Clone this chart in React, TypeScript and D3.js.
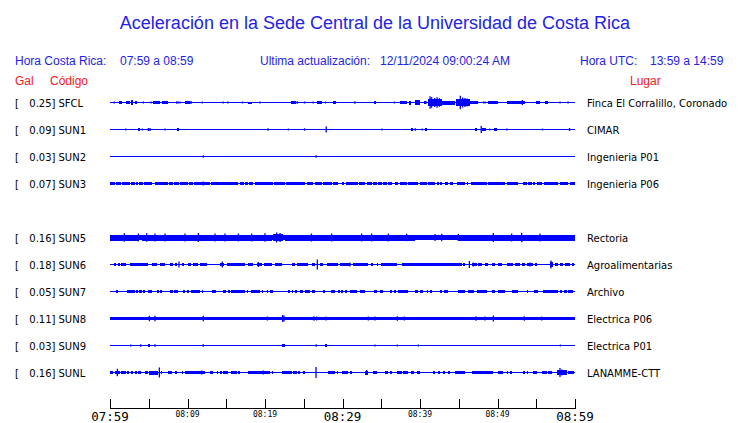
import React from "react";
import * as d3 from "d3";

// ---------- data ----------
const TITLE = "Aceleración en la Sede Central de la Universidad de Costa Rica";
const CODES = ["SFCL", "SUN1", "SUN2", "SUN3", "SUN5", "SUN6", "SUN7", "SUN8", "SUN9", "SUNL"];
const GAL = ["0.25", "0.09", "0.03", "0.07", "0.16", "0.18", "0.05", "0.11", "0.03", "0.16"];
const PLACES = [
  "Finca El Corralillo, Coronado", "CIMAR", "Ingenieria P01", "Ingenieria P06", "Rectoria",
  "Agroalimentarias", "Archivo", "Electrica P06", "Electrica P01", "LANAMME-CTT",
];
const ROWS = [0, 1, 2, 3, 5, 6, 7, 8, 9, 10];
const TICK_MINUTES = [0, 5, 10, 15, 20, 25, 30, 35, 40, 45, 50, 55, 60];
const TICK_LABELS = ["07:59", "08:09", "08:19", "08:29", "08:39", "08:49", "08:59"];
const BIG_LABELS = ["07:59", "08:29", "08:59"];

// continuous noise level per station (amplitude units)
const BASE = [0, 0, 0, 1.3, 2.6, 0, 0, 1.7, 0, 0];

// quiet gaps inside continuous noise [startMin, endMin]
const GAPS_SUN3 = [
  [0.65, 0.77], [1.38, 1.51], [2.58, 2.71], [3.23, 3.35], [3.66, 3.78], [4.22, 4.43], [5.38, 5.81],
  [7.53, 7.66], [8.17, 8.3], [8.9, 9.08], [10.11, 10.24], [10.67, 10.88], [12.9, 13.03], [16.56, 16.77],
  [17.25, 17.42], [17.85, 17.98], [18.49, 18.71], [21.08, 21.2], [22.58, 22.71], [25.16, 25.38],
  [26.24, 26.45], [27.31, 27.53], [28.6, 28.82], [29.46, 29.98], [30.15, 30.41], [31.96, 32.13],
  [32.9, 33.12], [33.76, 33.98], [34.41, 34.62], [35.05, 35.27], [35.7, 35.91], [36.34, 36.77],
  [37.2, 37.42], [38.28, 38.49], [39.78, 40.0], [40.86, 41.08], [41.94, 42.15], [42.45, 42.58],
  [42.8, 43.23], [43.66, 43.87], [44.3, 44.73], [45.81, 46.02], [46.24, 46.58], [48.6, 48.82],
  [50.97, 51.18], [52.69, 53.33], [53.76, 53.98], [54.41, 54.54], [54.84, 55.05], [55.7, 56.04],
  [57.85, 58.06], [59.14, 59.35],
];
const GAPS = [[], [], [], GAPS_SUN3, [], [], [], [], [], []];

// bursts [startMin, endMin, amplitude]
const BLOCKS_SFCL = [
  [1.16, 1.55, 1.3], [2.03, 2.58, 1.3], [2.71, 2.97, 2.3], [3.23, 3.45, 1.3], [5.55, 6.45, 1.5],
  [6.67, 7.45, 1.5], [9.68, 10.32, 1.5], [17.85, 18.28, 1], [23.35, 24.0, 1.3], [26.7, 27.35, 1.3],
  [28.77, 29.16, 1.3], [34.06, 34.3, 1.3], [37.4, 38.3, 1.5], [38.6, 38.8, 2], [39.35, 40.0, 2.3],
  [40.5, 40.77, 1.3], [41.0, 42.8, 3.6], [42.84, 44.5, 2], [44.7, 46.45, 3.8], [46.45, 47.5, 1.5],
  [48.8, 50.06, 1.3], [51.2, 53.5, 1.5], [55.0, 55.5, 1.3], [56.1, 56.5, 1.3],
];
const BLOCKS_SUN1 = [
  [3.66, 3.83, 1.5], [8.69, 8.86, 1.5], [38.9, 39.1, 1.3], [40.6, 40.9, 1.5], [47.1, 47.4, 1.5],
  [48.0, 48.5, 1.5], [49.6, 50.0, 1.5],
];
const BLOCKS_SUN5 = [[0, 3.66, 3], [4.09, 20.86, 3], [21.08, 22.37, 3.4], [22.6, 39.35, 3], [39.8, 44.5, 2.8], [45.0, 60, 3]];
const BLOCKS_SUN6 = [
  [0.52, 0.77, 1.3], [0.99, 1.29, 1.3], [1.42, 2.06, 1.3], [2.58, 4.95, 1.3], [5.38, 6.02, 1.3],
  [6.45, 7.1, 1.3], [7.74, 8.17, 1.3], [8.39, 8.6, 1.3], [9.33, 9.59, 1.3], [10.02, 10.45, 1.3],
  [10.75, 11.4, 1.3], [11.61, 12.47, 1.3], [14.19, 14.75, 1.3], [15.05, 17.42, 1.3], [17.85, 18.49, 1.3],
  [18.92, 19.57, 1.3], [19.91, 20.86, 1.3], [21.29, 22.15, 1.3], [23.44, 23.87, 1.3], [24.09, 25.59, 1.3],
  [26.02, 26.45, 1.3], [27.1, 27.53, 1.3], [27.96, 29.46, 1.3], [29.68, 30.97, 1.3], [31.4, 33.33, 1.3],
  [33.68, 33.98, 1.3], [34.41, 34.62, 1.3], [34.97, 36.34, 1.3], [36.43, 36.99, 1.3], [37.63, 45.38, 1.3],
  [45.59, 45.81, 1.3], [46.67, 47.31, 1.3], [47.53, 47.96, 1.3], [48.39, 48.82, 1.3], [49.25, 49.68, 1.3],
  [50.11, 50.54, 1.3], [51.18, 52.04, 1.3], [52.26, 52.9, 1.3], [53.12, 53.55, 1.3], [53.76, 54.62, 1.3],
  [54.84, 55.05, 1.3], [56.77, 57.2, 2.5], [57.42, 57.85, 1.3], [58.06, 58.49, 1.3], [58.71, 59.35, 1.3],
  [59.57, 59.91, 1.3],
];
const BLOCKS_SUN7 = [
  [0.77, 0.99, 1.3], [2.24, 3.23, 1.3], [3.35, 3.66, 1.3], [3.78, 4.09, 1.3], [4.3, 4.52, 1.3],
  [4.95, 5.38, 1.3], [6.11, 6.32, 1.3], [6.45, 6.67, 1.3], [7.74, 8.17, 1.3], [8.3, 8.73, 1.3],
  [9.46, 9.68, 1.3], [9.89, 10.19, 1.3], [10.45, 11.61, 1.3], [11.83, 12.04, 1.3], [13.2, 13.63, 1.3],
  [14.62, 14.92, 1.3], [15.27, 15.48, 1.3], [15.61, 17.42, 1.3], [17.63, 17.85, 1.3], [18.15, 19.35, 1.3],
  [19.57, 19.78, 1.3], [20.22, 20.43, 1.3], [20.65, 21.08, 1.3], [23.01, 23.23, 1.3], [23.44, 23.66, 1.3],
  [23.87, 24.09, 1.3], [24.52, 24.95, 1.3], [25.16, 25.81, 1.3], [26.02, 26.45, 1.3], [27.53, 27.74, 1.3],
  [28.47, 29.03, 1.3], [29.46, 29.68, 1.3], [29.81, 30.11, 1.3], [30.32, 30.54, 1.3], [30.97, 31.83, 1.3],
  [32.26, 32.9, 1.3], [34.11, 34.41, 1.3], [34.84, 35.27, 1.3], [36.13, 36.43, 1.3], [36.69, 36.86, 1.3],
  [37.2, 38.49, 1.3], [39.35, 39.78, 1.3], [40.0, 40.43, 1.3], [40.86, 41.08, 1.3], [41.29, 41.51, 1.3],
  [42.58, 42.88, 1.3], [43.14, 43.57, 1.3], [44.86, 45.81, 1.3], [46.24, 47.01, 1.3], [47.31, 48.6, 1.3],
  [49.25, 49.68, 1.3], [50.11, 50.97, 1.3], [51.83, 52.69, 1.3], [53.76, 53.98, 1.3], [54.75, 55.27, 1.3],
  [55.91, 57.85, 1.3], [58.06, 58.37, 1.3], [58.62, 58.92, 1.3], [59.14, 59.78, 1.3],
];
const BLOCKS_SUN9 = [[4.95, 5.16, 1.5], [22.15, 22.58, 1.3], [27.74, 28.0, 1.3]];
const BLOCKS_SUNL = [
  [0, 0.43, 1.3], [0.65, 1.29, 1.3], [1.42, 2.02, 1.3], [2.15, 2.45, 1.3], [2.71, 3.01, 1.3],
  [3.23, 3.44, 1.3], [3.66, 3.96, 1.3], [4.52, 4.95, 1.3], [5.08, 6.24, 2], [6.58, 6.75, 1.3],
  [7.44, 7.96, 1.3], [8.39, 8.6, 1.3], [9.25, 9.46, 1.3], [9.68, 10.54, 1.3], [10.62, 11.83, 1.3],
  [11.83, 12.26, 1.8], [12.9, 13.33, 1.3], [13.76, 13.98, 1.3], [14.19, 14.41, 1.3], [14.62, 15.27, 1.3],
  [15.61, 16.34, 1.3], [16.56, 16.77, 1.3], [17.76, 20.65, 1.5], [20.86, 21.08, 1.3], [22.15, 23.44, 1.3],
  [23.66, 24.09, 1.3], [24.3, 24.52, 1.3], [24.95, 25.16, 1.3], [28.17, 29.03, 1.3], [29.25, 29.46, 1.3],
  [29.89, 30.67, 1.3], [30.97, 31.18, 1.3], [32.9, 33.33, 2], [33.98, 34.41, 1.3], [35.48, 35.91, 1.3],
  [36.13, 36.34, 1.3], [36.99, 37.63, 1.3], [37.85, 38.49, 1.3], [38.84, 39.27, 1.3], [39.57, 40.0, 1.3],
  [41.72, 41.94, 1.3], [42.37, 42.58, 1.3], [43.01, 43.23, 1.3], [43.66, 43.87, 1.3], [44.52, 45.81, 1.3],
  [46.67, 49.46, 1.3], [50.02, 50.75, 1.3], [51.18, 51.4, 1.3], [51.61, 51.91, 1.3], [53.33, 53.55, 1.3],
  [53.76, 53.98, 1.3], [54.62, 55.05, 1.3], [55.7, 56.34, 1.3], [56.56, 56.99, 1.3], [57.63, 58.92, 2.3],
  [59.14, 59.91, 1.3],
];
const BLOCKS = [BLOCKS_SFCL, BLOCKS_SUN1, [], [], BLOCKS_SUN5, BLOCKS_SUN6, BLOCKS_SUN7, [], BLOCKS_SUN9, BLOCKS_SUNL];

// single peaks [minute, amplitude]
const SPIKES_SFCL = [
  [0.55, 1], [4.3, 1], [5.3, 1], [8.6, 1.2], [8.8, 1], [9.03, 1], [10.45, 1.5], [11.9, 1], [14.6, 1],
  [15.2, 1], [17.1, 1], [19.35, 1], [24.17, 1.3], [25.1, 1], [26.2, 1], [27.8, 1], [31.6, 1.3], [36.7, 1],
  [40.77, 1.5], [41.3, 6.3], [41.5, 5.3], [41.9, 4.5], [42.2, 5.2], [42.5, 4.3], [45.2, 6.8], [45.5, 5],
  [45.8, 4.5], [46.1, 4], [48.2, 1], [48.4, 1], [53.2, 2.5], [58.06, 1], [59.1, 1],
];
const SPIKES_SUN1 = [
  [2.03, 1], [4.17, 1], [4.95, 1.5], [5.16, 1.5], [7.1, 1], [20.4, 1.3], [23.0, 1], [25.1, 1.2], [27.9, 3],
  [35.1, 1], [39.4, 1.2], [40.3, 1], [47.9, 3.5], [49.0, 1], [51.2, 1], [55.8, 1], [59.3, 1.5],
];
const SPIKES_SUN2 = [[12.04, 1.3], [26.6, 1.3]];
const SPIKES_SUN3 = [[12.04, 2]];
const SPIKES_SUN5 = [
  [1.85, 4.3], [3.66, 4], [4.73, 4.3], [5.81, 4], [7.1, 4], [9.68, 4], [11.4, 4.5], [13.55, 4], [14.84, 4],
  [16.56, 4], [18.28, 4], [20.0, 4.2], [21.5, 5], [21.94, 4.5], [26.0, 4], [28.6, 4], [32.47, 4], [33.76, 4],
  [35.91, 4], [38.28, 3.8], [41.94, 3.5], [42.8, 3.8], [44.95, 3.5], [49.46, 4.5], [51.83, 4], [53.12, 4.8],
  [55.48, 4],
];
const SPIKES_SUN6 = [
  [8.9, 3], [14.49, 3], [19.14, 2.5], [26.75, 5], [30.97, 2], [46.37, 3.5], [46.88, 2], [54.2, 2], [56.9, 4],
];
const SPIKES_SUN8 = [
  [5.08, 2.7], [5.81, 2.7], [12.04, 2.7], [20.3, 2], [22.28, 3.5], [22.45, 3], [26.32, 2.3], [26.67, 2],
  [27.87, 2], [33.33, 2], [34.19, 2], [37.08, 2.3], [37.98, 2], [47.23, 2.3], [48.39, 2], [49.46, 3],
  [53.46, 2.3], [55.7, 2],
];
const SPIKES_SUN9 = [
  [2.67, 1], [3.96, 1.3], [5.81, 1.2], [12.04, 1.2], [26.62, 1.3], [34.19, 1], [37.08, 1], [39.78, 1], [58.1, 1],
];
const SPIKES_SUNL = [
  [0.95, 3.7], [6.37, 5], [11.83, 2], [19.78, 2], [26.58, 5.5], [33.12, 2.5], [58.06, 4.5], [58.3, 3],
];
const SPIKES = [SPIKES_SFCL, SPIKES_SUN1, SPIKES_SUN2, SPIKES_SUN3, SPIKES_SUN5, SPIKES_SUN6, [], SPIKES_SUN8, SPIKES_SUN9, SPIKES_SUNL];

// ---------- chart ----------
const W = 740;
const H = 423;
const BLUE_TEXT = "#2323e6";
const RED_TEXT = "#f02020";
const TRACE = "#0000ff";
const SANS = "'Liberation Sans', Arial, Helvetica, sans-serif";
const LABEL_FONT = "'DejaVu Sans', sans-serif";
const MONO = "'DejaVu Sans Mono', monospace";

function ampAt(i: number, t: number): number {
  let a = BASE[i];
  for (const g of GAPS[i]) if (t >= g[0] && t < g[1]) a = 0;
  for (const b of BLOCKS[i]) if (t >= b[0] && t < b[1]) a = Math.max(a, b[2]);
  return a;
}

export default function App() {
  const x = d3.scaleLinear().domain([0, 60]).range([110, 575]);
  const y = d3.scaleLinear().domain([0, 10]).range([102.5, 372.5]);
  const amp = d3.scaleLinear().domain([0, 10]).range([0, 10]);

  const [r0, r1] = x.range();
  const nSamples = Math.round(r1 - r0);
  const step = (x.domain()[1] - x.domain()[0]) / nSamples;
  const samples = d3.range(nSamples + 1).map((k) => k * step);

  return (
    <svg width={W} height={H} style={{ position: "absolute", left: 0, top: 0, background: "#fff" }}>
      <text x={375} y={29} textAnchor="middle" fill={BLUE_TEXT} fontFamily={SANS} fontSize={18}>
        {TITLE}
      </text>
      <g fontFamily={SANS} fontSize={12} fill={BLUE_TEXT}>
        <text x={15} y={65}>Hora Costa Rica:</text>
        <text x={120} y={65}>07:59 a 08:59</text>
        <text x={260} y={65}>Ultima actualización:</text>
        <text x={380} y={65}>12/11/2024 09:00:24 AM</text>
        <text x={580} y={65}>Hora UTC:</text>
        <text x={650} y={65}>13:59 a 14:59</text>
      </g>
      <g fontFamily={SANS} fontSize={12} fill={RED_TEXT}>
        <text x={15} y={85}>Gal</text>
        <text x={50} y={85}>Código</text>
        <text x={630} y={85}>Lugar</text>
      </g>

      {CODES.map((code, i) => {
        const cy = y(ROWS[i]);
        const area = d3
          .area<number>()
          .x((t) => x(t))
          .y0((t) => cy - amp(ampAt(i, t + step / 2)))
          .y1((t) => cy + amp(ampAt(i, t + step / 2)))
          .curve(d3.curveStepAfter);
        return (
          <g key={code}>
            <g fontFamily={LABEL_FONT} fontSize={10} fill="#000">
              <text x={15} y={cy + 4}>[</text>
              <text x={55.5} y={cy + 4} textAnchor="end">{GAL[i] + "]"}</text>
              <text x={58.5} y={cy + 4}>{code}</text>
              <text x={587} y={cy + 4}>{PLACES[i]}</text>
            </g>
            <line x1={r0} x2={r1} y1={cy} y2={cy} stroke={TRACE} strokeWidth={1.2} />
            <path d={area(samples) || ""} fill={TRACE} shapeRendering="crispEdges" />
            {SPIKES[i].map((s, k) => (
              <line
                key={k}
                x1={x(s[0])}
                x2={x(s[0])}
                y1={cy - amp(s[1])}
                y2={cy + amp(s[1])}
                stroke={TRACE}
                strokeWidth={1.3}
              />
            ))}
          </g>
        );
      })}

      <g>
        <line x1={r0} x2={r1} y1={408.5} y2={408.5} stroke="#000" strokeWidth={1} />
        {TICK_MINUTES.map((m) => (
          <line key={m} x1={Math.round(x(m)) + 0.5} x2={Math.round(x(m)) + 0.5} y1={399} y2={409} stroke="#000" strokeWidth={1} />
        ))}
        {TICK_LABELS.map((lab, k) => {
          const big = BIG_LABELS.includes(lab);
          return (
            <text
              key={lab}
              x={x(k * 10)}
              y={big ? 421 : 417}
              textAnchor="middle"
              fontFamily={MONO}
              fontSize={big ? 12.5 : 8}
              fill="#000"
            >
              {lab}
            </text>
          );
        })}
      </g>
    </svg>
  );
}
